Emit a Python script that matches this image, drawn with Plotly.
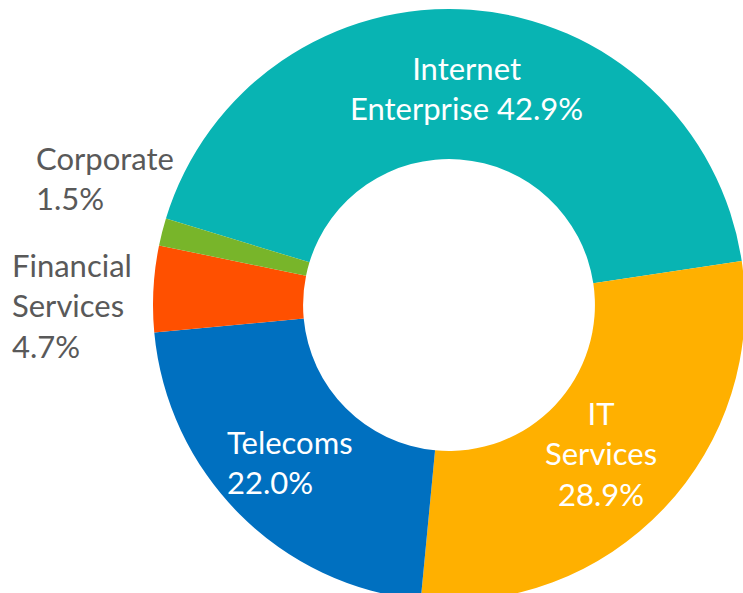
import plotly.graph_objects as go

# Data
categories = ["Internet Enterprise", "IT Services", "Telecoms", "Financial Services", "Corporate"]
shares = [42.9, 28.9, 22.0, 4.7, 1.5]
label_lines = [["Internet", "Enterprise"], ["IT", "Services"], ["Telecoms"], ["Financial", "Services"], ["Corporate"]]
colors = ["#08B4B3", "#FFB000", "#0070C0", "#FF5000", "#78B52A"]

W, H = 760, 610

fig = go.Figure(go.Pie(
    labels=categories,
    values=shares,
    hole=0.493,
    sort=False,
    direction="clockwise",
    rotation=287,
    marker=dict(colors=colors, line=dict(width=0)),
    textinfo="none",
    hoverinfo="label+percent",
    showlegend=False,
    domain=dict(x=[153 / W, 745 / W], y=[1 - 601 / H, 1 - 9 / H]),
))

def fmt(i):
    return f"{shares[i]:.1f}%"

# label texts built from data
label_texts = [
    label_lines[0][0] + "<br>" + label_lines[0][1] + " " + fmt(0),
    label_lines[1][0] + "<br>" + label_lines[1][1] + "<br>" + fmt(1),
    label_lines[2][0] + "<br>" + fmt(2),
    label_lines[3][0] + "<br>" + label_lines[3][1] + "<br>" + fmt(3),
    label_lines[4][0] + "<br>" + fmt(4),
]
label_pos = [(466, 88, "center"), (601, 453, "center"), (225, 462, "left"), (10, 305, "left"), (34, 178, "left")]
label_colors = ["white", "white", "white", "#595959", "#595959"]

annotations = []
for txt, (px, py, al), c in zip(label_texts, label_pos, label_colors):
    annotations.append(dict(
        text=txt, x=px / W, y=1 - py / H, xref="paper", yref="paper",
        xanchor=al, yanchor="middle", align=al, showarrow=False,
        font=dict(family="Lato", size=31, color=c),
    ))

fig.update_layout(
    width=W, height=H,
    margin=dict(l=0, r=0, t=0, b=0),
    paper_bgcolor="white", plot_bgcolor="white",
    annotations=annotations,
)

fig.write_html("out.html", config={"displayModeBar": False},
               post_script="document.body.style.margin='0';document.body.style.overflow='hidden';")
